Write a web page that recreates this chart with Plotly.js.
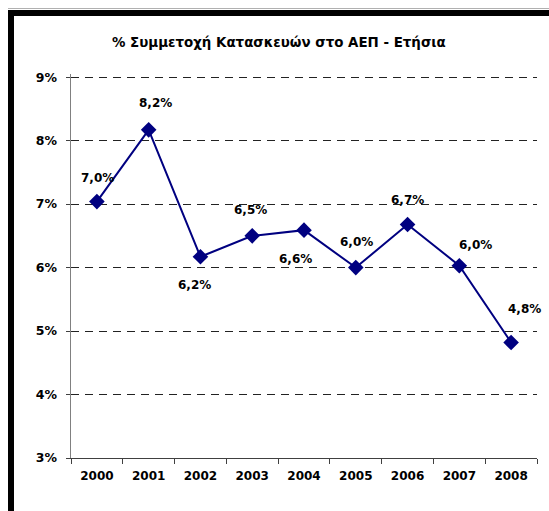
<!DOCTYPE html>
<html>
<head>
<meta charset="utf-8">
<script src="https://cdn.plot.ly/plotly-3.0.1.min.js"></script>
<style>
  body { margin: 0; background: #fff; }
  #chart { position: absolute; left: 0; top: 0; width: 549px; height: 511px; }
  #frame { position: absolute; left: 8px; top: 10px; width: 600px; height: 600px;
           border-left: 6px solid #000; border-top: 6px solid #000; pointer-events: none; }
  #edge { position: absolute; left: 8px; top: 8px; width: 600px; height: 1px; background: #b0b0b0; }
</style>
</head>
<body>
<div id="chart"></div>
<div id="edge"></div>
<div id="frame"></div>
<script>
var years = ["2000", "2001", "2002", "2003", "2004", "2005", "2006", "2007", "2008"];
var share = [7.04, 8.17, 6.17, 6.50, 6.59, 6.00, 6.68, 6.03, 4.82];
var labels = ["7,0%", "8,2%", "6,2%", "6,5%", "6,6%", "6,0%", "6,7%", "6,0%", "4,8%"];
// label offsets from each point, in pixels
var labelDx = [1, 7, -6, -2, -9, 1, 0, 16, 13];
var labelDy = [24, 27, -28, 26, -29, 26, 24, 21, 33];

var trace = {
  x: years,
  y: share,
  type: "scatter",
  mode: "lines+markers",
  line: { color: "#000080", width: 2 },
  marker: { symbol: "diamond", size: 12, color: "#000080" },
  hoverinfo: "skip",
};

var notes = [];
for (var i = 0; i < years.length; i++) {
  notes.push({
    xref: "x", yref: "y",
    x: i, y: share[i], text: "<b>" + labels[i] + "</b>",
    showarrow: false, xshift: labelDx[i], yshift: labelDy[i],
    font: { family: "DejaVu Sans", size: 12, color: "#000" },
  });
}

var layout = {
  width: 549,
  height: 511,
  margin: { l: 71, r: 12, t: 74, b: 53 },
  paper_bgcolor: "#fff",
  plot_bgcolor: "#fff",
  showlegend: false,
  title: {
    text: "% Συμμετοχή Κατασκευών στο ΑΕΠ - Ετήσια",
    font: { family: "DejaVu Sans", size: 13.4, color: "#000", weight: "bold" },
    x: 0.508, xref: "container", xanchor: "center",
    y: 0.918, yref: "container", yanchor: "middle",
  },
  xaxis: {
    type: "category",
    range: [-0.5, 8.5],
    showline: true, linecolor: "#404040", linewidth: 1,
    ticks: "outside", ticklen: 5, tickcolor: "#404040", tickson: "boundaries",
    showgrid: false,
    ticklabelstandoff: 7,
    tickfont: { family: "DejaVu Sans", size: 12, color: "#000", weight: "bold" },
    fixedrange: true,
  },
  yaxis: {
    range: [3, 9.05],
    tickvals: [3, 4, 5, 6, 7, 8, 9],
    ticktext: ["3%", "4%", "5%", "6%", "7%", "8%", "9%"],
    showline: true, linecolor: "#808080", linewidth: 1.5,
    ticks: "outside", ticklen: 4, tickcolor: "#404040",
    showgrid: true, gridcolor: "#222", gridwidth: 1, griddash: "8px,6px",
    zeroline: false,
    ticklabelstandoff: 6,
    tickfont: { family: "DejaVu Sans", size: 12.5, color: "#000", weight: "bold" },
    fixedrange: true,
  },
  annotations: notes,
};

Plotly.newPlot("chart", [trace], layout, { staticPlot: true });
</script>
</body>
</html>
